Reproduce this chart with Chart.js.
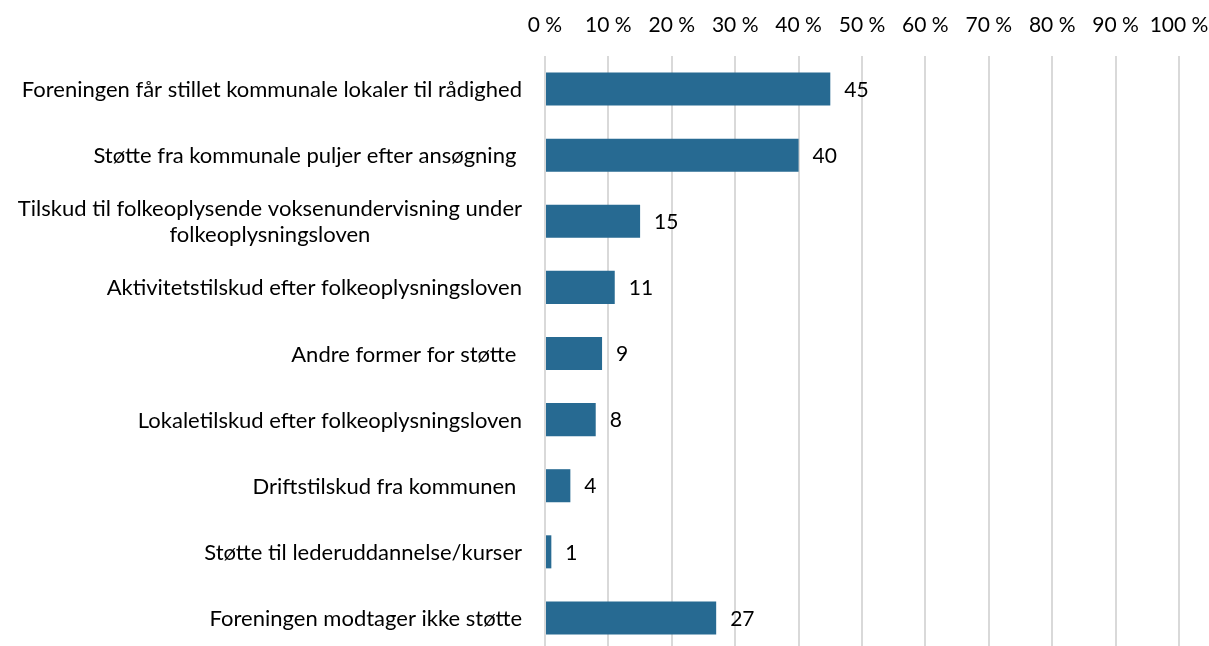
<!DOCTYPE html>
<html>
<head>
<meta charset="utf-8">
<script src="https://cdn.jsdelivr.net/npm/chart.js@4/dist/chart.umd.min.js"></script>
<style>
  html, body { margin: 0; padding: 0; background: #fff; overflow: hidden; }
  canvas { display: block; }
</style>
</head>
<body>
<canvas id="stoetteChart" width="1209" height="651"></canvas>
<script>
// Kommunal støtte til foreninger (andel i procent)
const categories = [
    'Foreningen får stillet kommunale lokaler til rådighed',
    'Støtte fra kommunale puljer efter ansøgning ',
    ['Tilskud til folkeoplysende voksenundervisning under', 'folkeoplysningsloven'],
    'Aktivitetstilskud efter folkeoplysningsloven',
    'Andre former for støtte ',
    'Lokaletilskud efter folkeoplysningsloven',
    'Driftstilskud fra kommunen ',
    'Støtte til lederuddannelse/kurser',
    'Foreningen modtager ikke støtte'
];
const values = [45, 40, 15, 11, 9, 8, 4, 1, 27];

const FONT = 'Lato, "Open Sans", sans-serif';
const LABEL_GAP = 23;
const LINE_H = 26;

// category labels: block right-aligned to the axis, wrapped lines centred inside the block
const categoryLabels = {
    id: 'categoryLabels',
    afterDraw(chart) {
        const ctx = chart.ctx;
        const yScale = chart.scales.y;
        const right = chart.chartArea.left - LABEL_GAP;
        ctx.save();
        ctx.font = '22px ' + FONT;
        ctx.fillStyle = '#000';
        ctx.textBaseline = 'middle';
        chart.data.labels.forEach((label, i) => {
            const lines = Array.isArray(label) ? label : [label];
            const y = yScale.getPixelForValue(i);
            if (lines.length === 1) {
                ctx.textAlign = 'right';
                ctx.fillText(lines[0], right, y + 1);
                return;
            }
            const blockW = Math.max(...lines.map(l => ctx.measureText(l).width));
            const cx = right - blockW / 2;
            const y0 = y - (lines.length - 1) * LINE_H / 2;
            ctx.textAlign = 'center';
            lines.forEach((l, k) => ctx.fillText(l, cx, y0 + k * LINE_H + 1));
        });
        ctx.restore();
    }
};

// writes the value just to the right of each bar
const barValues = {
    id: 'barValues',
    afterDatasetsDraw(chart) {
        const ctx = chart.ctx;
        const meta = chart.getDatasetMeta(0);
        ctx.save();
        ctx.font = '21px ' + FONT;
        ctx.fillStyle = '#000';
        ctx.textAlign = 'left';
        ctx.textBaseline = 'middle';
        meta.data.forEach((bar, i) => {
            ctx.fillText(String(values[i]), bar.x + 14, bar.y + 1);
        });
        ctx.restore();
    }
};

const ctx = document.getElementById('stoetteChart').getContext('2d');
new Chart(ctx, {
    type: 'bar',
    data: {
        labels: categories,
        datasets: [{
            data: values,
            backgroundColor: '#276a92',
            barPercentage: 0.5,
            categoryPercentage: 1.0
        }]
    },
    options: {
        indexAxis: 'y',
        responsive: false,
        animation: false,
        layout: { padding: { left: 0, right: 30, top: 0, bottom: 0 } },
        plugins: {
            legend: { display: false },
            tooltip: { enabled: false }
        },
        scales: {
            x: {
                position: 'top',
                min: 0,
                max: 100,
                ticks: {
                    stepSize: 10,
                    padding: 18,
                    maxRotation: 0,
                    minRotation: 0,
                    autoSkip: false,
                    color: '#000',
                    font: { family: FONT, size: 21 },
                    callback: v => v + ' %'
                },
                grid: { color: '#d9d9d9', lineWidth: 2, drawTicks: false },
                border: { display: false },
                afterFit: s => {
                    s.height = 56;
                    s.paddingLeft = 0;
                    s.paddingRight = 0;
                }
            },
            y: {
                ticks: { display: false },
                grid: { display: false, drawTicks: false },
                border: { display: false },
                afterFit: s => {
                    s.width = 545;
                    s.paddingTop = 0;
                    s.paddingBottom = 0;
                }
            }
        }
    },
    plugins: [barValues, categoryLabels]
});
</script>
</body>
</html>
